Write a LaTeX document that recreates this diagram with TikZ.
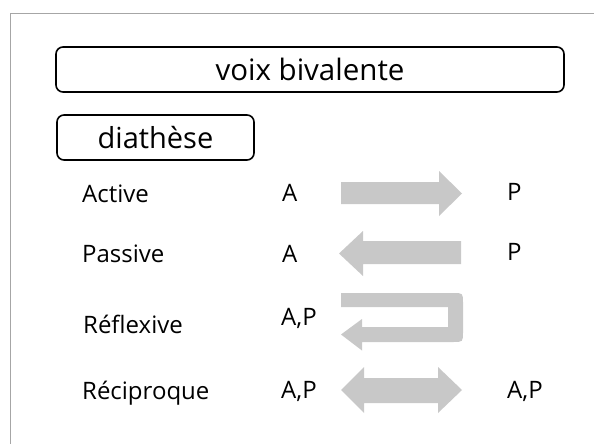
\documentclass[tikz,border=0pt]{standalone}
\usepackage{fontspec}
\setmainfont{Open Sans}
\definecolor{arrowgray}{RGB}{200,200,200}
\definecolor{framegray}{RGB}{166,166,166}
\begin{document}
\begin{tikzpicture}[x=1pt,y=-1pt,
  box/.style={draw=black, line width=1.6pt, rounded corners=7pt, inner sep=0pt},
  lbl/.style={anchor=base west, inner sep=0pt, font=\fontsize{24}{28}\selectfont},
  garrow/.style={fill=arrowgray, draw=none}]
\useasboundingbox (0,0) rectangle (594,444);
\draw[framegray, line width=0.8pt] (10,444) -- (10,13.5) -- (594,13.5);
% headings
\node[box, minimum width=508pt, minimum height=45pt, font=\fontsize{29.5}{34}\selectfont] (title) at (310,69.5) {voix bivalente};
\node[box, minimum width=197pt, minimum height=45pt, font=\fontsize{29}{34}\selectfont] (diath) at (155.5,137.5) {diathèse};
% row labels
\node[lbl] (act) at (82,202) {Active};
\node[lbl] (pas) at (82,262) {Passive};
\node[lbl] (ref) at (83,333) {Réflexive};
\node[lbl] (rec) at (82,399) {Réciproque};
% left arguments
\node[lbl] (a1) at (282,201) {A};
\node[lbl] (a2) at (282,262) {A};
\node[lbl] (a3) at (281,325) {A,P};
\node[lbl] (a4) at (281,398) {A,P};
% right arguments
\node[lbl] (p1) at (507,200) {P};
\node[lbl] (p2) at (507,260) {P};
\node[lbl] (p4) at (507,398) {A,P};
% arrows
\fill[garrow] (341,182) -- (439,182) -- (439,171) -- (462,193.5) -- (439,216) -- (439,204) -- (341,204) -- cycle;
\fill[garrow] (339,253.5) -- (363,231) -- (363,241) -- (461,241) -- (461,264) -- (363,264) -- (363,276) -- cycle;
\fill[garrow] (341,293) -- (453,293) .. controls (463,293) .. (463,303) -- (463,332) .. controls (463,342) .. (453,342)
  -- (362,342) -- (362,350.5) -- (341,334.5) -- (362,319) -- (362,327) -- (448,327) -- (448,307) -- (341,307) -- cycle;
\fill[garrow] (341,390) -- (364,367) -- (364,378) -- (438,378) -- (438,367) -- (462,390) -- (438,413) -- (438,403)
  -- (364,403) -- (364,413) -- cycle;
\end{tikzpicture}
\end{document}
